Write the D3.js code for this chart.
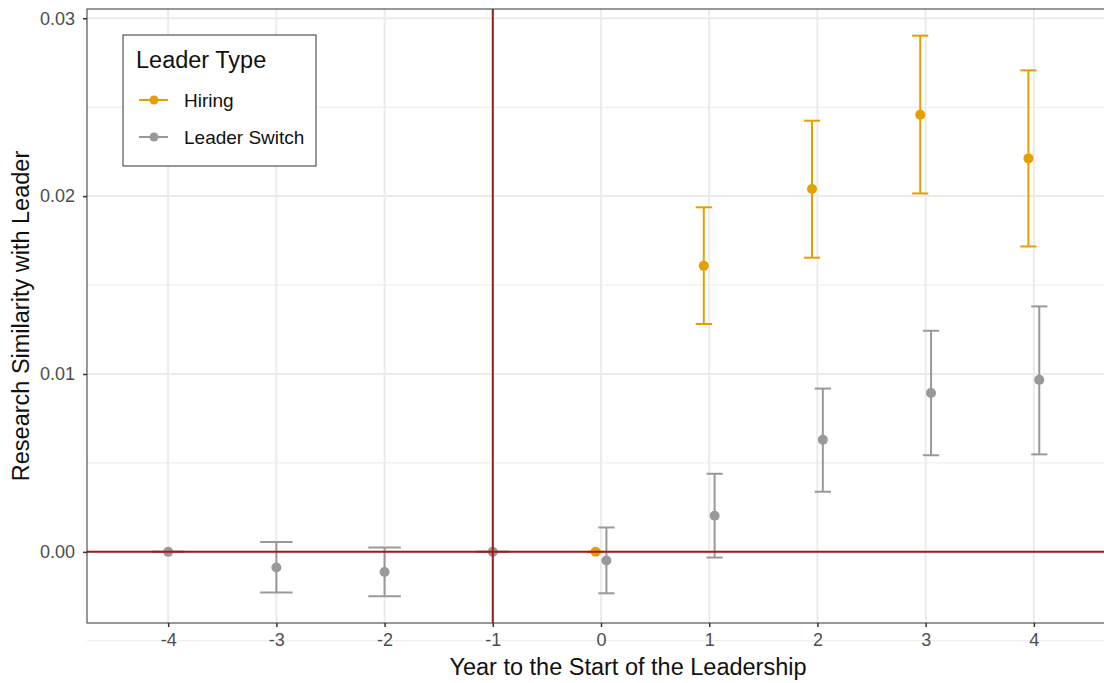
<!DOCTYPE html>
<html>
<head>
<meta charset="utf-8">
<script src="https://cdn.jsdelivr.net/npm/d3@7/dist/d3.min.js"></script>
<style>
  body { margin: 0; background: #fff; }
  text { font-family: "Liberation Sans", Arial, sans-serif; }
</style>
</head>
<body>
<div id="chart"></div>
<script>
// data
const years = [-4, -3, -2, -1, 0, 1, 2, 3, 4];
const groups = ["Hiring", "Leader Switch"];

const hiringYears = [0, 1, 2, 3, 4];
const hiringEst = [0, 0.01608, 0.02040, 0.02457, 0.02212];
const hiringLo = [0, 0.01281, 0.01654, 0.02015, 0.01717];
const hiringHi = [0, 0.01937, 0.02424, 0.02902, 0.02707];

const switchYears = [-4, -3, -2, -1, 0, 1, 2, 3, 4];
const switchEst = [0, -0.00088, -0.00113, 0, -0.00049, 0.00203, 0.00630, 0.00893, 0.00967];
const switchLo = [0, -0.00229, -0.00249, 0, -0.00233, -0.00032, 0.00338, 0.00543, 0.00548];
const switchHi = [0, 0.00056, 0.00024, 0, 0.00137, 0.00439, 0.00918, 0.01243, 0.01380];

const yTicks = [0, 0.01, 0.02, 0.03];
const yMinor = [-0.005, 0.005, 0.015, 0.025];

const width = 1104, height = 683;
const margin = { top: 9, right: -11, bottom: 60, left: 87 };

const colors = { "Hiring": "#E69F00", "Leader Switch": "#999999" };
const redLine = "#9e1c16";

const rows = [];
hiringYears.forEach((yr, i) => rows.push({ year: yr, group: "Hiring", est: hiringEst[i], lo: hiringLo[i], hi: hiringHi[i] }));
switchYears.forEach((yr, i) => rows.push({ year: yr, group: "Leader Switch", est: switchEst[i], lo: switchLo[i], hi: switchHi[i] }));

// how many groups at each year, for dodging
const nAtYear = d3.rollup(rows, v => v.length, d => d.year);

const x = d3.scaleLinear()
  .domain([-4.75, 4.75])
  .range([margin.left, width - margin.right]);

const y = d3.scaleLinear()
  .domain([-0.004, 0.03052])
  .range([height - margin.bottom, margin.top]);

const unit = x(1) - x(0);

function dodgeX(d) {
  const n = nAtYear.get(d.year);
  if (n === 1) return x(d.year);
  const off = d.group === "Hiring" ? -0.05 : 0.05;
  return x(d.year + off);
}
function capHalf(d) {
  const n = nAtYear.get(d.year);
  return (0.3 / n) * unit / 2;
}

const svg = d3.select("#chart").append("svg")
  .attr("width", width)
  .attr("height", height);

svg.append("defs").append("clipPath").attr("id", "panel")
  .append("rect")
  .attr("x", margin.left).attr("y", margin.top)
  .attr("width", width - margin.right - margin.left)
  .attr("height", height - margin.bottom - margin.top);

// grid
const grid = svg.append("g");
grid.selectAll(".ymin").data(yMinor).join("line")
  .attr("x1", margin.left).attr("x2", width - margin.right)
  .attr("y1", d => y(d)).attr("y2", d => y(d))
  .attr("stroke", "#ebebeb").attr("stroke-width", 1);
grid.selectAll(".ymaj").data(yTicks).join("line")
  .attr("x1", margin.left).attr("x2", width - margin.right)
  .attr("y1", d => y(d)).attr("y2", d => y(d))
  .attr("stroke", "#ebebeb").attr("stroke-width", 2);
grid.selectAll(".xmaj").data(years).join("line")
  .attr("y1", margin.top).attr("y2", height - margin.bottom)
  .attr("x1", d => x(d)).attr("x2", d => x(d))
  .attr("stroke", "#ebebeb").attr("stroke-width", 2);

const plot = svg.append("g").attr("clip-path", "url(#panel)");

// error bars
const eb = plot.selectAll(".eb").data(rows).join("g")
  .attr("stroke", d => colors[d.group])
  .attr("stroke-width", 2);
eb.append("line")
  .attr("x1", dodgeX).attr("x2", dodgeX)
  .attr("y1", d => y(d.lo)).attr("y2", d => y(d.hi));
eb.append("line")
  .attr("x1", d => dodgeX(d) - capHalf(d)).attr("x2", d => dodgeX(d) + capHalf(d))
  .attr("y1", d => y(d.lo)).attr("y2", d => y(d.lo));
eb.append("line")
  .attr("x1", d => dodgeX(d) - capHalf(d)).attr("x2", d => dodgeX(d) + capHalf(d))
  .attr("y1", d => y(d.hi)).attr("y2", d => y(d.hi));

// points
plot.selectAll(".pt").data(rows).join("circle")
  .attr("cx", dodgeX)
  .attr("cy", d => y(d.est))
  .attr("r", 5)
  .attr("fill", d => colors[d.group]);

// reference lines
plot.append("line")
  .attr("x1", margin.left).attr("x2", width - margin.right)
  .attr("y1", y(0)).attr("y2", y(0))
  .attr("stroke", redLine).attr("stroke-width", 2);
plot.append("line")
  .attr("x1", x(-1)).attr("x2", x(-1))
  .attr("y1", margin.top).attr("y2", height - margin.bottom)
  .attr("stroke", redLine).attr("stroke-width", 2);

// panel border
svg.append("rect")
  .attr("x", margin.left).attr("y", margin.top)
  .attr("width", width - margin.right - margin.left)
  .attr("height", height - margin.bottom - margin.top)
  .attr("fill", "none").attr("stroke", "#333333").attr("stroke-width", 1);

// axes
const xAxis = svg.append("g")
  .attr("transform", `translate(0,${height - margin.bottom})`)
  .call(d3.axisBottom(x).tickValues(years).tickSize(4).tickPadding(6).tickFormat(d3.format("d")));
const yAxis = svg.append("g")
  .attr("transform", `translate(${margin.left},0)`)
  .call(d3.axisLeft(y).tickValues(yTicks).tickSize(4).tickPadding(8).tickFormat(d3.format(".2f")));
[xAxis, yAxis].forEach(a => {
  a.select(".domain").remove();
  a.selectAll(".tick line").attr("stroke", "#333333").attr("stroke-width", 1.5);
  a.selectAll(".tick text").attr("fill", "#4d4d4d").style("font-size", "18px")
    .style("font-family", "'Liberation Sans', Arial, sans-serif");
});
xAxis.selectAll(".tick text").text(d => d < 0 ? "-" + Math.abs(d) : d);

// axis titles
svg.append("text")
  .attr("x", 628).attr("y", 675)
  .attr("text-anchor", "middle")
  .attr("fill", "#111")
  .style("font-size", "23.5px")
  .text("Year to the Start of the Leadership");
svg.append("text")
  .attr("transform", `translate(29,${(margin.top + height - margin.bottom) / 2}) rotate(-90)`)
  .attr("text-anchor", "middle")
  .attr("fill", "#111")
  .style("font-size", "23.5px")
  .text("Research Similarity with Leader");

// legend
const legend = svg.append("g").attr("transform", "translate(123,35)");
legend.append("rect")
  .attr("width", 193).attr("height", 131)
  .attr("fill", "#fff").attr("stroke", "#333333").attr("stroke-width", 1);
legend.append("text")
  .attr("x", 13).attr("y", 33)
  .attr("fill", "#111")
  .style("font-size", "23.5px")
  .text("Leader Type");
const item = legend.selectAll(".item").data(groups).join("g")
  .attr("transform", (d, i) => `translate(0,${65 + i * 37})`);
item.append("line")
  .attr("x1", 16).attr("x2", 45)
  .attr("stroke", d => colors[d]).attr("stroke-width", 2);
item.append("circle")
  .attr("cx", 31).attr("r", 4.5)
  .attr("fill", d => colors[d]);
item.append("text")
  .attr("x", 61).attr("y", 7)
  .attr("fill", "#111")
  .style("font-size", "19px")
  .text(d => d);
</script>
</body>
</html>
